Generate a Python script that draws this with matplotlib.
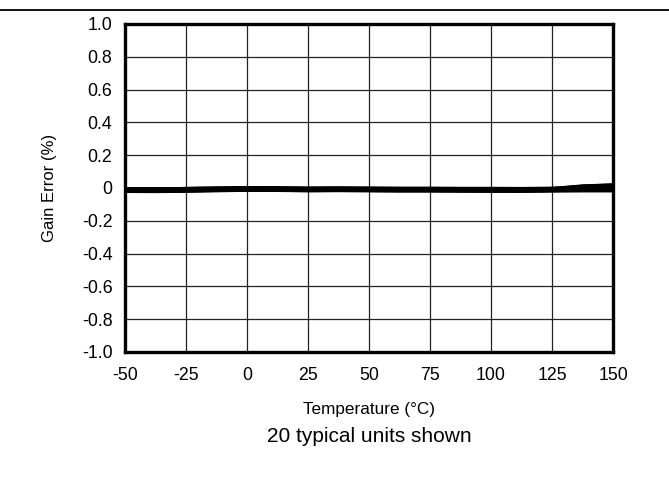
import matplotlib
matplotlib.use("Agg")
import matplotlib.pyplot as plt
import numpy as np

plt.rcParams['font.family'] = ['Liberation Sans', 'DejaVu Sans']

# temperatures (deg C) where each unit was read
temps = [-50, -37.5, -25, -12.5, 0, 12.5, 25, 37.5, 50, 62.5, 75, 87.5, 100, 112.5, 125, 137.5, 150]

# gain error (%) for the 20 units
units = [
    [-0.012, -0.010, -0.008, -0.006, -0.004, -0.005, -0.007, -0.006, -0.006, -0.007, -0.007, -0.008, -0.008, -0.009, -0.006, 0.012, 0.020],
    [-0.010, -0.012, -0.010, -0.008, -0.006, -0.008, -0.009, -0.008, -0.009, -0.010, -0.010, -0.011, -0.012, -0.012, -0.008, 0.008, 0.016],
    [-0.015, -0.016, -0.014, -0.011, -0.009, -0.010, -0.012, -0.011, -0.012, -0.012, -0.013, -0.014, -0.014, -0.015, -0.012, 0.002, 0.010],
    [-0.008, -0.009, -0.007, -0.004, -0.002, -0.003, -0.005, -0.004, -0.004, -0.005, -0.006, -0.006, -0.007, -0.007, -0.005, -0.002, 0.004],
    [-0.020, -0.020, -0.018, -0.015, -0.013, -0.014, -0.016, -0.015, -0.016, -0.017, -0.017, -0.018, -0.018, -0.019, -0.017, -0.014, -0.012],
    [-0.004, -0.004, -0.002, 0.000, 0.002, 0.001, -0.001, 0.000, -0.001, -0.002, -0.002, -0.003, -0.003, -0.004, -0.002, -0.002, -0.002],
    [-0.014, -0.013, -0.011, -0.009, -0.007, -0.008, -0.010, -0.009, -0.010, -0.010, -0.011, -0.011, -0.012, -0.013, -0.011, -0.010, -0.010],
    [-0.022, -0.023, -0.021, -0.018, -0.015, -0.016, -0.018, -0.017, -0.018, -0.019, -0.019, -0.020, -0.021, -0.021, -0.019, -0.018, -0.018],
    [-0.003, -0.004, -0.002, 0.001, 0.004, 0.003, 0.001, 0.002, 0.001, 0.000, 0.000, -0.001, -0.001, -0.002, 0.000, 0.010, 0.014],
    [-0.011, -0.011, -0.009, -0.007, -0.005, -0.006, -0.008, -0.007, -0.007, -0.008, -0.009, -0.009, -0.010, -0.010, -0.009, -0.008, -0.008],
    [-0.017, -0.018, -0.016, -0.013, -0.011, -0.012, -0.014, -0.013, -0.014, -0.015, -0.015, -0.016, -0.017, -0.017, -0.014, -0.014, -0.014],
    [-0.009, -0.008, -0.006, -0.004, -0.003, -0.004, -0.006, -0.005, -0.005, -0.006, -0.007, -0.007, -0.008, -0.008, -0.006, 0.004, 0.008],
    [-0.013, -0.014, -0.012, -0.010, -0.008, -0.009, -0.011, -0.010, -0.011, -0.011, -0.012, -0.012, -0.013, -0.014, -0.012, -0.011, -0.011],
    [-0.007, -0.007, -0.005, -0.003, -0.001, -0.002, -0.004, -0.003, -0.004, -0.004, -0.005, -0.006, -0.006, -0.007, -0.005, -0.005, -0.005],
    [-0.021, -0.021, -0.019, -0.016, -0.014, -0.015, -0.017, -0.016, -0.017, -0.018, -0.018, -0.019, -0.020, -0.020, -0.018, -0.017, -0.017],
    [-0.012, -0.013, -0.011, -0.008, -0.006, -0.007, -0.009, -0.009, -0.009, -0.010, -0.010, -0.011, -0.011, -0.012, -0.010, -0.009, -0.009],
    [-0.005, -0.004, -0.002, 0.000, 0.001, 0.000, -0.002, -0.001, -0.002, -0.003, -0.003, -0.004, -0.004, -0.005, -0.003, 0.014, 0.020],
    [-0.018, -0.017, -0.015, -0.013, -0.011, -0.012, -0.014, -0.013, -0.013, -0.014, -0.015, -0.015, -0.016, -0.016, -0.015, -0.015, -0.015],
    [-0.010, -0.010, -0.008, -0.005, -0.004, -0.005, -0.007, -0.006, -0.007, -0.008, -0.008, -0.009, -0.009, -0.010, -0.007, -0.006, -0.006],
    [-0.016, -0.015, -0.013, -0.011, -0.009, -0.010, -0.012, -0.011, -0.011, -0.012, -0.013, -0.013, -0.014, -0.014, -0.012, -0.012, -0.012],
]

xticks = [-50, -25, 0, 25, 50, 75, 100, 125, 150]
yticks = [-1.0, -0.8, -0.6, -0.4, -0.2, 0, 0.2, 0.4, 0.6, 0.8, 1.0]
ytick_labels = ['-1.0', '-0.8', '-0.6', '-0.4', '-0.2', '0', '0.2', '0.4', '0.6', '0.8', '1.0']

fig = plt.figure(figsize=(6.69, 4.87), dpi=100)
ax = fig.add_axes([125 / 669, 1 - 352 / 487, 488 / 669, 328 / 487])

for u in units:
    ax.plot(temps, u, color='black', lw=2.0)

ax.set_xlim(-50, 150)
ax.set_ylim(-1.0, 1.0)
ax.set_xticks(xticks)
ax.set_xticklabels([str(t) for t in xticks])
ax.set_yticks(yticks)
ax.set_yticklabels(ytick_labels)
ax.grid(True, color='#222222', lw=0.9)
ax.tick_params(length=0, labelsize=12.8)
ax.tick_params(axis='y', pad=9)
ax.tick_params(axis='x', pad=11)
for s in ax.spines.values():
    s.set_linewidth(2.4)

ax.set_xlabel('Temperature (°C)', fontsize=12.3, labelpad=13)
ax.set_ylabel('Gain Error (%)', fontsize=12, labelpad=18)

fig.text(0.5 * (125 + 613) / 669, 1 - 437 / 487, '20 typical units shown', fontsize=15,
         ha='center', va='center')

# rule across the top of the page
fig.add_artist(plt.Line2D([0, 1], [1 - 10 / 487, 1 - 10 / 487], color='black', lw=1.3))

fig.savefig('out.png', dpi=100)
